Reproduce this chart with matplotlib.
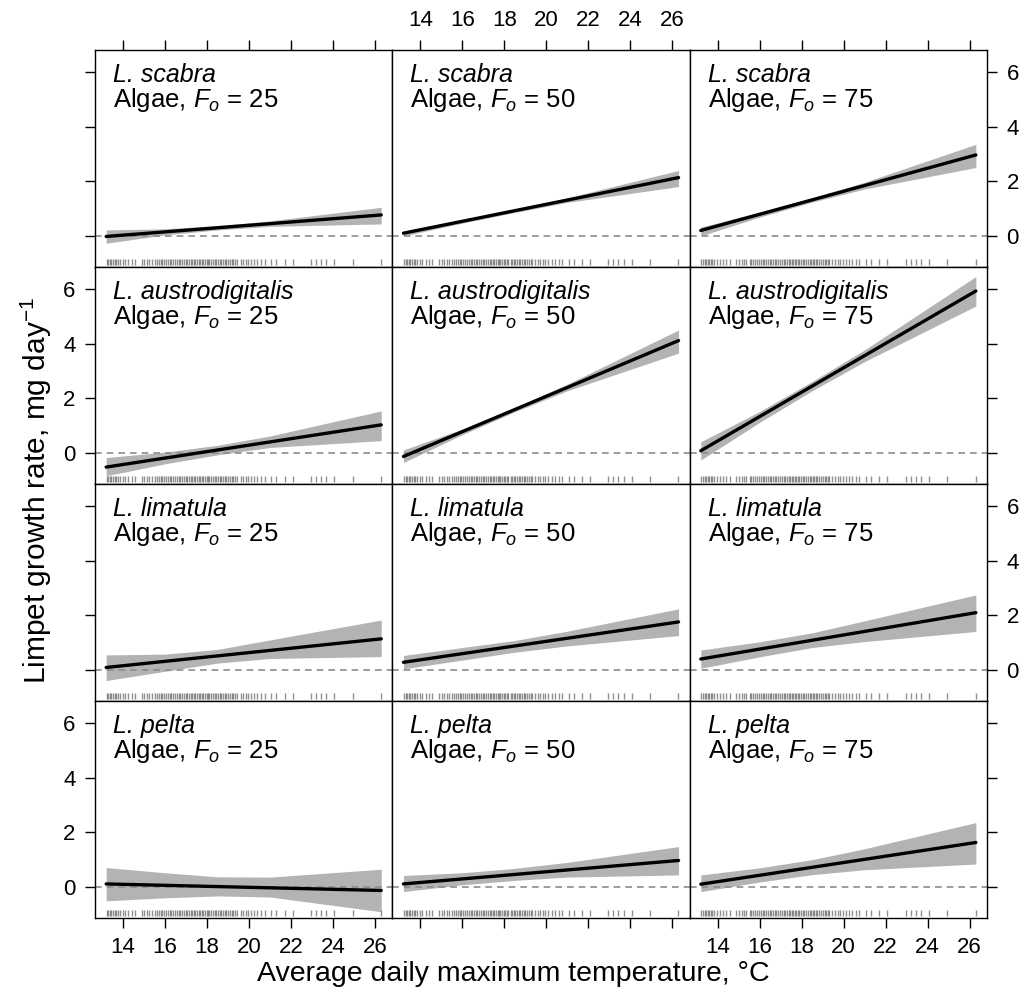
import matplotlib
matplotlib.use('Agg')
import matplotlib.pyplot as plt
import numpy as np

plt.rcParams['font.family'] = ['Liberation Sans', 'DejaVu Sans']
plt.rcParams['mathtext.fontset'] = 'custom'
plt.rcParams['mathtext.rm'] = 'Liberation Sans'
plt.rcParams['mathtext.it'] = 'Liberation Sans:italic'

# --- data ---
species = ['L. scabra', 'L. austrodigitalis', 'L. limatula', 'L. pelta']
food_levels = [25, 50, 75]

line_x = [13.2, 26.3]
# fitted line at start / end, rows = species, cols = Fo
line_start = [[-0.02, 0.10, 0.20],
              [-0.52, -0.13, 0.08],
              [0.09, 0.28, 0.40],
              [0.11, 0.11, 0.10]]
line_end = [[0.77, 2.14, 2.97],
            [1.03, 4.12, 5.94],
            [1.14, 1.76, 2.10],
            [-0.13, 0.97, 1.63]]

band_x = [13.2, 16.0, 18.5, 21.0, 26.3]
band_upper = [
    [[0.22, 0.26, 0.38, 0.55, 1.05], [0.18, 0.60, 0.99, 1.40, 2.40], [0.32, 0.88, 1.40, 1.97, 3.36]],
    [[-0.17, 0.03, 0.28, 0.62, 1.54], [0.11, 0.88, 1.67, 2.52, 4.51], [0.41, 1.52, 2.62, 3.78, 6.47]],
    [[0.55, 0.58, 0.75, 1.10, 1.83], [0.53, 0.82, 1.08, 1.42, 2.24], [0.73, 1.03, 1.36, 1.80, 2.75]],
    [[0.71, 0.52, 0.37, 0.36, 0.65], [0.42, 0.52, 0.68, 0.90, 1.48], [0.44, 0.70, 1.00, 1.40, 2.36]],
]
band_lower = [
    [[-0.27, 0.04, 0.22, 0.35, 0.44], [0.00, 0.47, 0.86, 1.23, 1.81], [0.00, 0.69, 1.24, 1.72, 2.51]],
    [[-0.84, -0.40, -0.07, 0.20, 0.45], [-0.35, 0.67, 1.51, 2.28, 3.66], [-0.26, 1.12, 2.28, 3.35, 5.39]],
    [[-0.39, -0.05, 0.25, 0.42, 0.49], [0.04, 0.36, 0.65, 0.88, 1.26], [0.06, 0.48, 0.82, 1.04, 1.41]],
    [[-0.51, -0.40, -0.33, -0.37, -0.91], [-0.17, 0.08, 0.24, 0.36, 0.44], [-0.17, 0.18, 0.45, 0.63, 0.84]],
]

# observed temperatures (rug)
rug_temps = [13.22, 13.3, 13.38, 13.45, 13.52, 13.6, 13.68, 13.75, 13.85, 13.98, 14.1, 14.25, 14.41,
             14.57, 14.9, 15.02, 15.15, 15.25, 15.36,
             15.52, 15.6, 15.7, 15.8, 15.88, 15.95, 16.05, 16.15, 16.22, 16.3, 16.4, 16.48, 16.55,
             16.65, 16.72, 16.8, 16.9, 16.98, 17.05, 17.15, 17.22, 17.3, 17.38, 17.45, 17.52, 17.6,
             17.68, 17.75, 17.82, 17.9, 17.98, 18.05, 18.12, 18.2, 18.3, 18.38, 18.45, 18.52, 18.6,
             18.68, 18.75, 18.85, 18.92, 19.0, 19.1, 19.18, 19.25, 19.32,
             19.45, 19.6, 19.72, 19.85, 19.95, 20.1, 20.25, 20.4, 20.59,
             20.75, 21.06, 21.3, 21.7, 22.09, 22.96, 23.2, 23.44, 23.68, 24.07, 24.94, 26.29]

x_ticks = [14, 16, 18, 20, 22, 24, 26]
y_ticks = [0, 2, 4, 6]

fig, axes = plt.subplots(4, 3, figsize=(10.23, 10.0), dpi=100, sharex=True, sharey=True)
fig.subplots_adjust(left=0.0929, right=0.9648, top=0.95, bottom=0.082, wspace=0, hspace=0)

for r in range(4):
    for c in range(3):
        ax = axes[r, c]
        ax.fill_between(band_x, band_lower[r][c], band_upper[r][c], color='#b3b3b3', lw=0, zorder=1)
        ax.axhline(0, color='#8c8c8c', ls=(0, (4, 3)), lw=1.2, zorder=2)
        ax.plot(line_x, [line_start[r][c], line_end[r][c]], color='black', lw=2.4,
                solid_capstyle='round', zorder=3)
        ax.vlines(rug_temps, 0.008, 0.036, transform=ax.get_xaxis_transform(),
                  color='#606060', alpha=0.7, lw=1.0, zorder=2)
        ax.text(0.06, 0.853, species[r], transform=ax.transAxes, fontsize=18,
                style='italic', va='baseline', ha='left')
        ax.text(0.06, 0.737, r'Algae, $F_o$ = %d' % food_levels[c], transform=ax.transAxes,
                fontsize=18.5, va='baseline', ha='left')

        ax.set_xlim(12.67, 26.83)
        ax.set_ylim(-1.14, 6.82)
        ax.set_xticks(x_ticks)
        ax.set_yticks(y_ticks)
        for sp in ax.spines.values():
            sp.set_linewidth(1.0)

        top_row = r == 0
        bottom_row = r == 3
        ax.tick_params(axis='x', direction='out', length=7, width=1, labelsize=16, pad=7,
                       top=top_row, bottom=bottom_row,
                       labeltop=top_row and c == 1,
                       labelbottom=bottom_row and c != 1)
        ax.tick_params(axis='y', direction='out', length=7, width=1, labelsize=16, pad=7,
                       left=c == 0, right=c == 2,
                       labelleft=c == 0 and r in (1, 3),
                       labelright=c == 2 and r in (0, 2))

fig.text(0.502, 0.013, 'Average daily maximum temperature, \u00b0C', ha='center', va='bottom', fontsize=20.5)
fig.text(0.036, 0.51, r'Limpet growth rate, mg day$^{-1}$', ha='center', va='center',
         rotation=90, fontsize=21.5)

fig.savefig('out.png', dpi=100)
